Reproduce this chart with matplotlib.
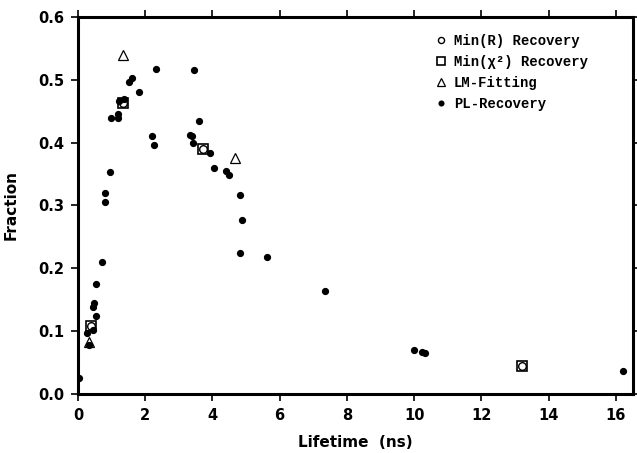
# Fraction vs lifetime: recovered lifetime distributions
import matplotlib
matplotlib.use("Agg")
import matplotlib.pyplot as plt

# Min(R) recovery (open circles)
minr_x = [0.38, 1.33, 3.71, 13.22]
minr_y = [0.108, 0.463, 0.390, 0.044]

# Min(chi^2) recovery (open squares)
minchi_x = [0.38, 1.33, 3.71, 13.22]
minchi_y = [0.108, 0.463, 0.390, 0.044]

# LM fitting (open triangles)
lm_x = [0.32, 1.35, 4.67]
lm_y = [0.083, 0.540, 0.375]

# PL recovery (filled dots)
pl_x = [0.03, 0.26, 0.34, 0.46, 0.53, 0.46, 0.49, 0.54, 0.70, 0.80, 0.80,
        0.94, 0.98, 1.20, 1.20, 1.22, 1.38, 1.51, 1.62, 1.81, 2.21, 2.27,
        2.32, 3.33, 3.38, 3.43, 3.45, 3.59, 3.93, 4.05, 4.39, 4.49, 4.81,
        4.87, 4.81, 5.63, 7.36, 10.0, 10.23, 10.33, 16.23]
pl_y = [0.025, 0.097, 0.078, 0.102, 0.124, 0.138, 0.145, 0.174, 0.210, 0.305,
        0.320, 0.354, 0.440, 0.445, 0.439, 0.467, 0.469, 0.497, 0.503, 0.481,
        0.410, 0.396, 0.518, 0.413, 0.410, 0.399, 0.516, 0.435, 0.383, 0.359,
        0.355, 0.348, 0.317, 0.276, 0.224, 0.218, 0.164, 0.069, 0.066, 0.065,
        0.036]

x_ticks = [0, 2, 4, 6, 8, 10, 12, 14, 16]
y_ticks = [0.0, 0.1, 0.2, 0.3, 0.4, 0.5, 0.6]

fig = plt.figure(figsize=(6.37, 4.53), dpi=100)
ax = fig.add_axes([0.1225, 0.131, 0.8705, 0.831])

ax.plot(minr_x, minr_y, "o", ms=5.5, mfc="white", mec="black", mew=1.0,
        label="Min(R) Recovery")
ax.plot(minchi_x, minchi_y, "s", ms=7, mfc="none", mec="black", mew=1.2,
        label="Min(χ²) Recovery")
ax.plot(lm_x, lm_y, "^", ms=7, mfc="white", mec="black", mew=0.9,
        label="LM-Fitting")
ax.plot(pl_x, pl_y, "o", ms=4.2, color="black", label="PL-Recovery")

ax.set_xlim(0, 16.5)
ax.set_ylim(0, 0.6)
ax.set_xticks(x_ticks)
ax.set_yticks(y_ticks)
ax.set_xticklabels([str(t) for t in x_ticks])
ax.set_yticklabels(["%.1f" % t for t in y_ticks])

for s in ax.spines.values():
    s.set_linewidth(2.2)
ax.tick_params(direction="out", length=5, width=1.2, top=True, right=True,
               labelsize=10.5, pad=5)
for lab in ax.get_xticklabels() + ax.get_yticklabels():
    lab.set_fontweight("bold")

ax.set_xlabel("Lifetime  (ns)", fontsize=11, fontweight="bold", labelpad=9)
ax.set_ylabel("Fraction", fontsize=11, fontweight="bold", labelpad=14)

# legend without frame, set in a typewriter-like font
leg = ax.legend(loc="upper left", bbox_to_anchor=(0.64, 0.955), frameon=False,
                prop={"family": ["Liberation Mono", "DejaVu Sans Mono"],
                      "size": 10, "weight": "bold"},
                handletextpad=0.3, handlelength=1.2, labelspacing=0.5,
                markerscale=0.8, borderaxespad=0, borderpad=0)

fig.savefig("out.png", dpi=100)
